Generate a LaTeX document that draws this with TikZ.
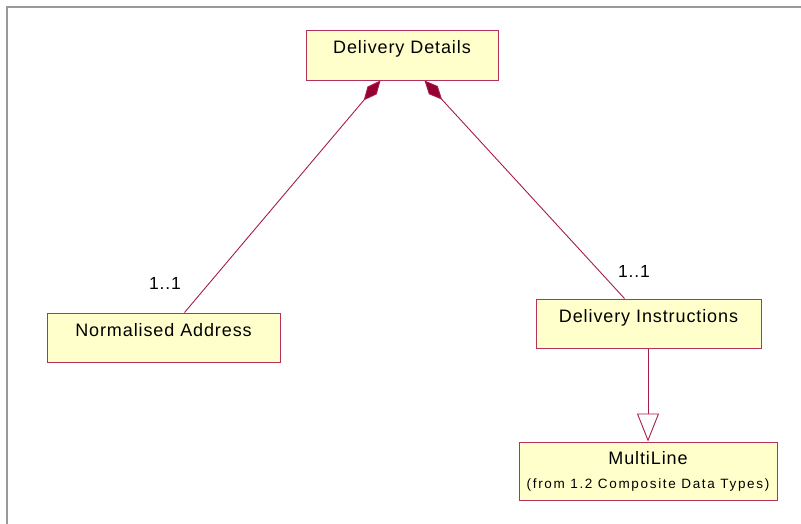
\documentclass[tikz,border=0pt]{standalone}
\usepackage{fontspec}
\setmainfont{Liberation Sans}[LetterSpace=5]
\usetikzlibrary{arrows.meta,calc}
\definecolor{boxfill}{HTML}{FFFFCC}
\definecolor{boxline}{RGB}{180,50,90}
\definecolor{connc}{RGB}{165,30,75}
\definecolor{dia}{RGB}{150,0,50}
\definecolor{framec}{HTML}{9A9A9A}
\begin{document}
\begin{tikzpicture}[x=1pt,y=-1pt,
  classbox/.style={draw=boxline,fill=boxfill,line width=1pt,inner sep=0pt,
    text height=8pt,text depth=11pt,font=\fontsize{18}{21}\selectfont},
  conn/.style={draw=connc,line width=0.9pt},
  mult/.style={font=\fontsize{17.5}{20}\selectfont,inner sep=0pt}]
\useasboundingbox (0,0) rectangle (801,523);
\clip (0,0) rectangle (801,523);
\fill[white] (0,0) rectangle (801,523);
\draw[framec,line width=1.3pt] (7,540) -- (7,7) -- (820,7);
\node[classbox,minimum width=192pt,minimum height=50pt] (dd) at (402,55) {Delivery Details};
\node[classbox,minimum width=233pt,minimum height=49pt] (na) at (163.5,337.5) {Normalised Address};
\node[classbox,minimum width=225pt,minimum height=49pt] (di) at (648.5,323.5) {Delivery Instructions};
\node[classbox,minimum width=258pt,minimum height=58pt,align=center,text height=,text depth=] (ml) at (648,471)
  {MultiLine\\[3pt]{\fontsize{13.5}{15}\selectfont\addfontfeatures{LetterSpace=12.5}(from 1.2 Composite Data Types)}};
\node[mult] (m1) at (165,283) {1..1};
\node[mult] (m2) at (634,271) {1..1};
\draw[conn,{Diamond[length=26pt,width=12pt,fill=dia]}-] ($(dd.south west)+(75,0)$) -- ($(na.north west)+(138,0)$);
\draw[conn,{Diamond[length=26pt,width=12pt,fill=dia]}-] ($(dd.south west)+(119,0)$) -- ($(di.north west)+(89,0)$);
\draw[conn,-{Triangle[open,length=28pt,width=22pt,fill=white]}] (di.south -| ml.north) -- (ml.north);
\end{tikzpicture}
\end{document}
